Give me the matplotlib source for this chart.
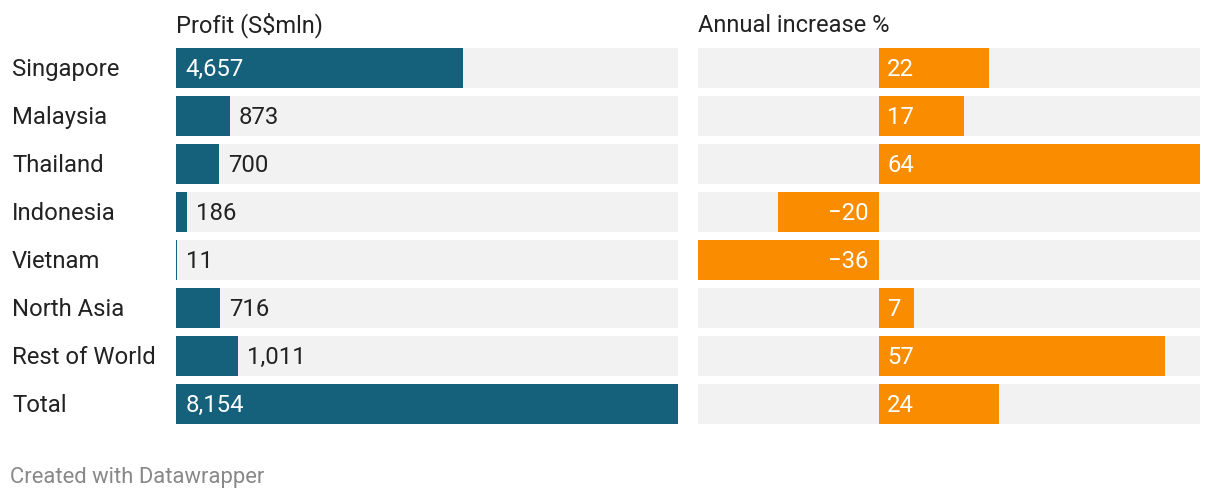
import matplotlib
matplotlib.use("Agg")
import matplotlib.pyplot as plt
from matplotlib.transforms import blended_transform_factory, ScaledTranslation

plt.rcParams['font.family'] = ['Roboto', 'DejaVu Sans']

regions = ["Singapore", "Malaysia", "Thailand", "Indonesia", "Vietnam",
           "North Asia", "Rest of World", "Total"]
profit = [4657, 873, 700, 186, 11, 716, 1011, 8154]
increase = [22, 17, 64, -20, -36, 7, 57, 24]
title_profit = "Profit (S$mln)"
title_increase = "Annual increase %"
footer = "Created with Datawrapper"

W, H = 1220, 500
BLUE = "#15607a"
ORANGE = "#fa8c00"
BG = "#f2f2f2"
TXT = "#222222"
FS = 17.2

fig = plt.figure(figsize=(W / 100, H / 100), dpi=100)

def px_axes(x0, x1, ytop, ybot):
    return fig.add_axes([x0 / W, 1 - ybot / H, (x1 - x0) / W, (ybot - ytop) / H])

n = len(regions)
ypos = list(range(n))
bh = 40 / 48

ax1 = px_axes(176, 678, 44, 428)
ax2 = px_axes(698, 1200, 44, 428)

pmax = max(profit)
ax1.barh(ypos, [pmax] * n, height=bh, color=BG, zorder=1)
ax1.barh(ypos, profit, height=bh, color=BLUE, zorder=2)
ax1.set_xlim(0, pmax)

imin, imax = min(increase), max(increase)
ax2.barh(ypos, [imax - imin] * n, left=imin, height=bh, color=BG, zorder=1)
ax2.barh(ypos, increase, height=bh, color=ORANGE, zorder=2)
ax2.set_xlim(imin, imax)

for ax in (ax1, ax2):
    ax.set_ylim(n - 0.5, -0.5)
    ax.axis("off")

DY = -1.0

for i, v in enumerate(profit):
    lab = f"{v:,}"
    bar_px = v / pmax * 502
    if bar_px > 100:
        ax1.annotate(lab, (0, i), xytext=(7.0, DY), textcoords="offset points",
                     ha="left", va="center", color="white", fontsize=FS, zorder=3)
    else:
        ax1.annotate(lab, (v, i), xytext=(6.5, DY), textcoords="offset points",
                     ha="left", va="center", color=TXT, fontsize=FS, zorder=3)

for i, v in enumerate(increase):
    lab = f"{v}" if v >= 0 else f"\u2212{abs(v)}"
    if v >= 0:
        ax2.annotate(lab, (0, i), xytext=(6.2, DY), textcoords="offset points",
                     ha="left", va="center", color="white", fontsize=FS, zorder=3)
    else:
        ax2.annotate(lab, (0, i), xytext=(-7.5, DY), textcoords="offset points",
                     ha="right", va="center", color="white", fontsize=FS, zorder=3)

tr = blended_transform_factory(fig.transFigure, ax1.transData) + \
    ScaledTranslation(0, DY / 72, fig.dpi_scale_trans)
for i, r in enumerate(regions):
    fig.text(12 / W, i, r, transform=tr, ha="left", va="center",
             color=TXT, fontsize=FS)

fig.text(176 / W, 1 - 25.5 / H, title_profit, ha="left", va="center",
         color=TXT, fontsize=17)
fig.text(698 / W, 1 - 25.5 / H, title_increase, ha="left", va="center",
         color=TXT, fontsize=17)
fig.text(10 / W, 1 - 477 / H, footer, ha="left", va="center",
         color="#888888", fontsize=15.8)

fig.savefig("out.png", dpi=100)
